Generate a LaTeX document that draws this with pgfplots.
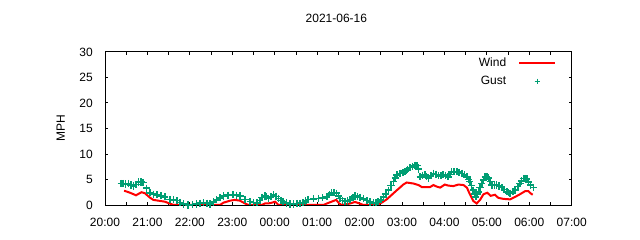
\documentclass[border=0pt]{standalone}
\usepackage{pgfplots}
\pgfplotsset{compat=1.18}
\usepackage{fontspec}
\setmainfont{Liberation Sans}
\definecolor{windred}{RGB}{255,0,0}
\definecolor{gustgreen}{RGB}{0,158,115}
\begin{document}
\begin{tikzpicture}[font=\fontsize{12bp}{14bp}\selectfont]
\useasboundingbox (0,0) rectangle (640bp,240bp);
\begin{axis}[
  at={(105bp,35bp)}, anchor=south west,
  scale only axis, width=466.7bp, height=153.3bp,
  xmin=0, xmax=11, ymin=0, ymax=30,
  xtick={0,1,2,3,4,5,6,7,8,9,10,11},
  xticklabels={20:00,21:00,22:00,23:00,00:00,01:00,02:00,03:00,04:00,05:00,06:00,07:00},
  minor xtick={0.5,1.5,2.5,3.5,4.5,5.5,6.5,7.5,8.5,9.5,10.5},
  ytick={0,5,10,15,20,25,30},
  major tick length=3bp, minor tick length=3bp,
  tick style={line width=0.8bp, black},
  axis line style={line width=1bp},
  /pgf/number format/assume math mode=true,
  xticklabel style={anchor=base, inner sep=0pt, yshift=-21.5bp},
  yticklabel style={anchor=base east, inner sep=0pt, xshift=-12bp, yshift=-4.3bp},
  title={2021-06-16},
  title style={at={(axis description cs:0.5,1)}, anchor=center, inner sep=0pt, yshift=27.5bp, xshift=-2bp},
  ylabel={MPH},
  ylabel style={at={(axis description cs:-0.095,0.5)}, anchor=center, inner sep=0pt},
  legend image code/.code={\draw[mark repeat=2, mark phase=2, #1] plot coordinates {(0bp,0bp) (18bp,0bp) (36bp,0bp)};},
  legend plot pos=right,
  legend cell align=right,
  legend style={draw=none, fill=none, at={(axis description cs:1,1)}, anchor=north east,
    xshift=-15.5bp, yshift=-5.5bp, inner sep=0pt, outer sep=0pt,
    nodes={inner sep=0pt, text height=9bp, text depth=3bp},
    column sep=12bp, row sep=6bp},
]
\addplot[windred, line width=2bp, no marks] coordinates {
(0.45,2.8) (0.59,2.4) (0.73,1.9) (0.86,2.5) (0.94,2.3) (1.05,1.5) (1.14,1.0) (1.41,0.65)
(1.52,0.3) (1.61,0.05) (1.8,0) (2.0,0) (2.2,0) (2.4,0) (2.6,0) (2.71,0) (2.79,0.45)
(2.95,0.85) (3.06,1.0) (3.18,0.85) (3.30,0.3) (3.38,0) (3.69,0) (3.77,0.3) (3.85,0.3)
(3.93,0.45) (4.01,0.65) (4.09,0) (4.5,0) (5.15,0) (5.23,0.3) (5.34,0.65) (5.45,1.0)
(5.52,0.3) (5.58,0) (5.78,0.3) (5.89,0.6) (6.00,0.3) (6.09,0) (6.40,0) (6.52,0.45)
(6.64,1.1) (6.76,2.0) (6.88,2.9) (6.95,3.4) (7.03,4.0) (7.11,4.4) (7.27,4.2) (7.39,3.9)
(7.47,3.5) (7.66,3.5) (7.74,3.9) (7.82,3.6) (7.90,3.4) (8.01,4.0) (8.09,3.8) (8.21,3.7)
(8.33,4.0) (8.45,3.9) (8.53,3.4) (8.60,2.1) (8.68,0.8) (8.76,0.3) (8.84,1.0) (8.92,2.1)
(9.01,2.4) (9.09,1.8) (9.19,2.0) (9.27,1.4) (9.39,1.2) (9.55,1.1) (9.67,1.6) (9.78,2.1)
(9.90,2.7) (9.98,2.7) (10.03,2.3) (10.08,2.0)
};
\addlegendentry{Wind}
\addplot[gustgreen, only marks, mark=+, mark size=3.6bp, mark options={gustgreen, line width=1.6bp},
  legend image post style={mark size=2.6bp, mark options={gustgreen, line width=1bp}}] coordinates {
(0.38,4.2) (0.42,4.2) (0.48,4.1) (0.55,4.2) (0.61,3.9) (0.67,3.7) (0.73,4.0) (0.79,4.5)
(0.85,4.5) (0.90,4.4) (0.98,3.3) (1.06,2.4) (1.14,2.1) (1.22,2.0) (1.32,1.8) (1.41,1.6)
(1.53,1.1) (1.61,1.0) (1.69,0.85) (1.77,0.5) (1.85,0.2) (1.96,0) (2.06,0.1) (2.16,0.2)
(2.24,0.35) (2.32,0.45) (2.40,0.35) (2.48,0.2) (2.56,0.6) (2.63,1.0) (2.71,1.4) (2.79,1.75)
(2.90,1.9) (3.02,2.0) (3.10,1.9) (3.18,1.75) (3.30,1.1) (3.42,0.65) (3.50,0.5) (3.58,0.45)
(3.65,0.9) (3.70,1.5) (3.77,1.75) (3.81,1.6) (3.85,1.3) (3.91,1.6) (3.97,2.0) (4.03,1.7)
(4.09,1.3) (4.15,0.9) (4.20,0.65) (4.28,0.4) (4.36,0.2) (4.44,0.2) (4.52,0.3) (4.60,0.35)
(4.67,0.45) (4.73,0.8) (4.79,1.1) (4.91,1.2) (5.03,1.3) (5.13,1.4) (5.23,1.6) (5.29,2.0)
(5.34,2.4) (5.40,2.4) (5.46,2.3) (5.50,1.8) (5.54,1.3) (5.60,0.9) (5.66,0.65) (5.72,0.8)
(5.78,1.0) (5.84,1.4) (5.89,1.75) (5.95,1.6) (6.01,1.5) (6.09,1.2) (6.17,0.85) (6.25,0.6)
(6.33,0.45) (6.39,0.5) (6.44,0.65) (6.50,1.0) (6.56,1.6) (6.62,2.2) (6.68,2.9) (6.74,3.8)
(6.80,4.6) (6.84,5.3) (6.88,5.9) (6.95,6.2) (7.03,6.3) (7.07,6.6) (7.13,7.0) (7.19,7.3)
(7.25,7.6) (7.31,7.8) (7.36,7.7) (7.39,7.0) (7.43,5.5) (7.48,5.8) (7.54,5.9) (7.58,5.5)
(7.62,5.2) (7.68,5.7) (7.74,6.2) (7.80,6.0) (7.86,5.7) (7.92,5.8) (7.97,5.9) (8.03,5.7)
(8.09,5.5) (8.13,6.0) (8.17,6.5) (8.23,6.5) (8.29,6.5) (8.35,6.4) (8.41,6.2) (8.47,5.9)
(8.53,5.5) (8.57,5.0) (8.60,4.6) (8.64,3.8) (8.68,2.9) (8.71,2.2) (8.74,1.6) (8.77,2.1)
(8.80,2.6) (8.84,3.4) (8.88,4.2) (8.92,4.9) (8.96,5.5) (9.00,5.5) (9.04,5.3) (9.08,4.6)
(9.12,3.9) (9.18,3.9) (9.23,3.9) (9.29,3.7) (9.35,3.4) (9.41,3.0) (9.47,2.6) (9.51,2.4)
(9.55,2.3) (9.61,2.6) (9.67,2.9) (9.73,3.6) (9.78,4.2) (9.82,4.7) (9.86,5.2) (9.90,5.2)
(9.94,5.1) (9.98,4.5) (10.03,3.9) (10.10,3.4)
};
\addlegendentry{Gust}
\end{axis}
\end{tikzpicture}
\end{document}
